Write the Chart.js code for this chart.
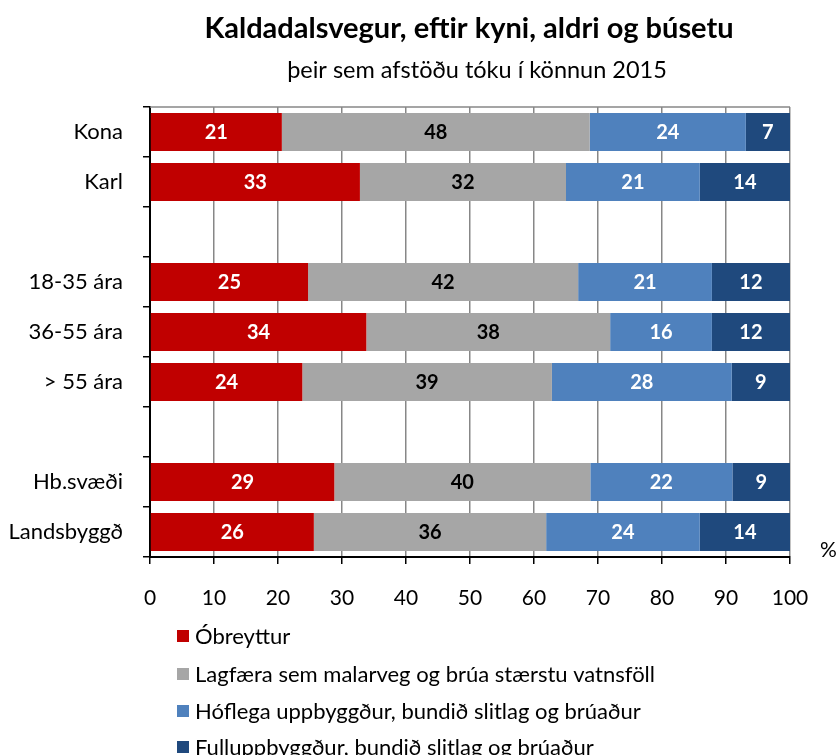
<!DOCTYPE html>
<html>
<head>
<meta charset="utf-8">
<script src="https://cdn.jsdelivr.net/npm/chart.js@4/dist/chart.umd.min.js"></script>
<style>
html,body{margin:0;padding:0;background:#fff;}
#wrap{width:837px;height:755px;position:relative;}
</style>
</head>
<body>
<div id="wrap"><canvas id="c" width="837" height="755"></canvas></div>
<script>
const titleText = 'Kaldadalsvegur, eftir kyni, aldri og búsetu';
const subtitleText = 'þeir sem afstöðu tóku í könnun 2015';
const categories = ['Kona','Karl','','18-35 ára','36-55 ára','> 55 ára','','Hb.svæði','Landsbyggð'];
const seriesNames = ['Óbreyttur','Lagfæra sem malarveg og brúa stærstu vatnsföll','Hóflega uppbyggður, bundið slitlag og brúaður','Fulluppbyggður, bundið slitlag og brúaður'];
const obreyttur = [20.6, 32.8, null, 24.7, 33.8, 23.8, null, 28.8, 25.6];
const lagfaera  = [48.1, 32.2, null, 42.2, 38.1, 39.0, null, 40.0, 36.3];
const hoflega   = [24.4, 20.9, null, 20.9, 15.9, 28.1, null, 22.2, 24.0];
const fullupp   = [6.9, 14.1, null, 12.2, 12.2, 9.1, null, 9.0, 14.1];
const xTicks = [0,10,20,30,40,50,60,70,80,90,100];

const colors = ['#C00000','#A6A6A6','#4F81BD','#1F497D'];
const labelColors = ['#ffffff','#000000','#ffffff','#ffffff'];
const FONT = "Lato, 'Open Sans', sans-serif";

const seriesData = [obreyttur, lagfaera, hoflega, fullupp];

const decor = {
  id: 'decor',
  beforeDatasetsDraw(chart) {
    const ctx = chart.ctx, a = chart.chartArea;
    ctx.save();
    ctx.strokeStyle = '#878787';
    ctx.lineWidth = 1.5;
    ctx.beginPath();
    ctx.moveTo(a.left, a.top);
    ctx.lineTo(a.right, a.top);
    ctx.stroke();
    ctx.restore();
  },
  afterDatasetsDraw(chart) {
    const ctx = chart.ctx;
    ctx.save();
    ctx.font = "bold 20px " + FONT;
    ctx.textAlign = 'center';
    ctx.textBaseline = 'middle';
    chart.data.datasets.forEach((ds, di) => {
      const meta = chart.getDatasetMeta(di);
      meta.data.forEach((bar, i) => {
        const v = ds.data[i];
        if (v == null) return;
        const p = bar.getProps(['x','base','y'], true);
        ctx.fillStyle = labelColors[di];
        ctx.fillText(String(Math.round(v)), (p.x + p.base) / 2, p.y + 1);
      });
    });
    ctx.restore();
  },
  afterDraw(chart) {
    const ctx = chart.ctx, a = chart.chartArea;
    const cx = (a.left + a.right) / 2;
    ctx.save();
    ctx.fillStyle = '#000';
    ctx.textAlign = 'center';
    ctx.textBaseline = 'middle';
    ctx.font = "bold 29px " + FONT;
    ctx.fillText(titleText, cx - 1, 29);
    ctx.font = "23.5px " + FONT;
    ctx.fillText(subtitleText, cx + 7, 70);
    ctx.font = "21px " + FONT;
    ctx.textAlign = 'left';
    ctx.fillText('%', a.right + 30, a.bottom - 7);
    // legend (vertical list)
    ctx.font = "22px " + FONT;
    const rows = [636, 674, 711, 747];
    chart.data.datasets.forEach((ds, di) => {
      const y = rows[di];
      ctx.fillStyle = ds.backgroundColor;
      ctx.fillRect(177, y - 6, 12, 12);
      ctx.fillStyle = '#000';
      ctx.fillText(ds.label, 195, y + 1);
    });
    ctx.restore();
  }
};

new Chart(document.getElementById('c'), {
  type: 'bar',
  data: {
    labels: categories,
    datasets: seriesData.map((d, i) => ({
      label: seriesNames[i],
      data: d,
      backgroundColor: colors[i],
      borderWidth: 0,
      categoryPercentage: 0.76,
      barPercentage: 1.0
    }))
  },
  options: {
    indexAxis: 'y',
    responsive: false,
    animation: false,
    layout: { padding: { left: 0, right: 47, top: 107, bottom: 138 } },
    plugins: {
      legend: { display: false },
      title: { display: false },
      tooltip: { enabled: false }
    },
    scales: {
      x: {
        stacked: true,
        min: 0, max: 100,
        afterBuildTicks(s) { s.ticks = xTicks.map(v => ({ value: v })); },
        afterFit(s) { s.height = 60; },
        grid: { color: '#878787', lineWidth: 1.5, tickColor: '#000', tickLength: 7, drawOnChartArea: true },
        border: { color: '#000', width: 2 },
        ticks: { color: '#000', font: { family: FONT, size: 21 }, padding: 22 }
      },
      y: {
        stacked: true,
        afterFit(s) { s.width = 150; },
        grid: { drawOnChartArea: false, offset: true, tickColor: '#000', tickLength: 7, lineWidth: 1.5 },
        border: { color: '#000', width: 2 },
        ticks: { color: '#000', font: { family: FONT, size: 22 }, padding: 20, autoSkip: false }
      }
    }
  },
  plugins: [decor]
});
</script>
</body>
</html>
